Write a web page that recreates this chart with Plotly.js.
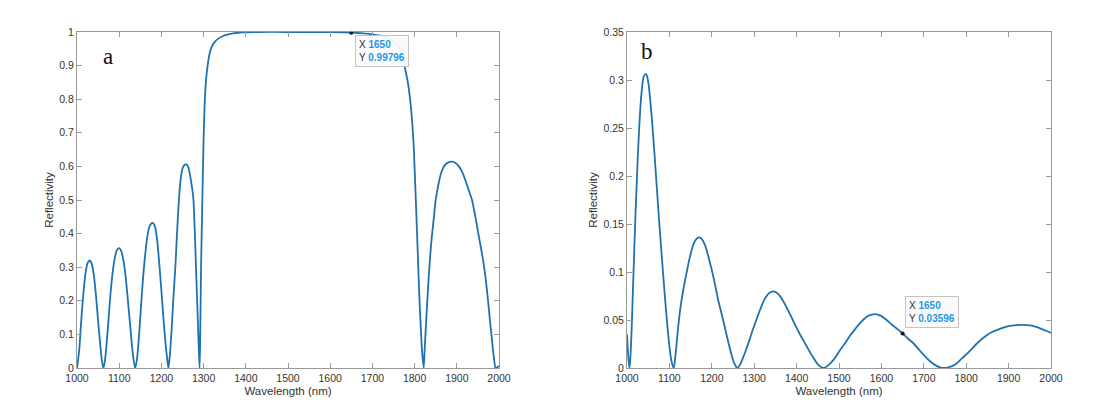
<!DOCTYPE html>
<html>
<head>
<meta charset="utf-8">
<script src="https://cdn.plot.ly/plotly-3.0.1.min.js"></script>
<style>html,body{margin:0;padding:0;background:#fff;}#chart{width:1096px;height:409px;}</style>
</head>
<body>
<div id="chart"></div>
<script>
// Panel (a) reflectivity
var waveA = [1000,1005,1010,1015,1020,1025,1030,1035,1040,1045,1050,1055,1059,1062.5,
  1066,1070,1075,1080,1085,1090,1095,1100,1105,1110,1115,1120,1125,1130,1134,1138,
  1142,1146,1151,1156,1161,1166,1171,1176,1180,1185,1190,1195,1200,1205,1210,1213.5,1216.5,
  1219.5,1224,1228,1233,1237,1241,1245,1250,1255,1259,1263,1267,1271,1274,1276,1279,1282,1285,1288,1290.5,
  1292,1294,1297,1300,1303,1306,1309.5,1314,1319,1326,1336,1346,1356,1370,1390,1420,1500,1550,1600,1650,1700,1730,1750,1762,1770,1776,1784,1791,1797,1802,1807,1811,1815,1818,1821.5,
  1824,1827,1831,1835,1840,1845,1850,1857,1864,1871,1880,1889,1897,1905,1912,1920,1928,1936,1944,1951,1958,1963,1968,1972,1976,1979,1982,1986,1989,1992,1996,2000];
var reflA = [0,0.05,0.14,0.22,0.28,0.312,0.32,0.31,0.275,0.215,0.14,0.07,0.022,0,
  0.02,0.07,0.15,0.23,0.29,0.33,0.352,0.357,0.348,0.32,0.275,0.21,0.14,0.07,0.025,0,
  0.025,0.08,0.17,0.26,0.33,0.385,0.418,0.43,0.432,0.42,0.38,0.31,0.23,0.145,0.07,0.03,0,
  0.03,0.11,0.2,0.3,0.4,0.49,0.555,0.593,0.605,0.606,0.6,0.58,0.55,0.525,0.5,0.41,0.3,0.19,0.08,0,
  0.1,0.3,0.5,0.68,0.8,0.86,0.9,0.935,0.955,0.97,0.981,0.988,0.992,0.996,0.999,1.0,1.0,1.0,0.9995,0.99796,0.993,0.985,0.972,0.955,0.935,0.9,0.85,0.78,0.68,0.53,0.36,0.22,0.11,0.045,0,
  0.06,0.13,0.22,0.3,0.38,0.44,0.5,0.55,0.585,0.603,0.612,0.614,0.61,0.6,0.585,0.56,0.53,0.5,0.45,0.4,0.352,0.315,0.27,0.225,0.175,0.135,0.1,0.05,0.02,0,0.002,0.006];

// Panel (b) reflectivity
var waveB = [1000,1003,1006,1010,1015,1020,1025,1030,1035,1040,1045,1050,1055,1060,1065,1070,1075,1080,1085,1090,1095,1100,1105,1110,
  1114,1118,1122,1127,1133,1140,1148,1156,1163,1170,1177,1184,1192,1200,1208,1216,1224,1232,1240,1247,1254,1260,
  1266,1273,1280,1288,1296,1305,1315,1325,1335,1346,1357,1368,1380,1391,1401,1411,1422,1432,1442,1452,1463,
  1475,1488,1500,1513,1525,1537,1548,1559,1570,1585,1598,1612,1625,1638,1650,1663,1677,1690,1703,1716,1729,1740,1747,
  1760,1775,1790,1807,1824,1842,1861,1881,1900,1918,1935,1950,1965,1980,1990,2000];
var reflB = [0.035,0.012,0,0.03,0.095,0.16,0.215,0.26,0.29,0.304,0.306,0.298,0.278,0.252,0.222,0.19,0.158,0.128,0.099,0.071,0.045,0.023,0.007,0,
  0.012,0.03,0.048,0.066,0.082,0.098,0.115,0.128,0.134,0.136,0.134,0.128,0.116,0.102,0.086,0.069,0.055,0.04,0.025,0.013,0.004,0,
  0.003,0.01,0.018,0.028,0.039,0.05,0.062,0.072,0.078,0.0798,0.077,0.07,0.06,0.05,0.041,0.0325,0.024,0.016,0.009,0.003,0,
  0.003,0.009,0.017,0.025,0.033,0.04,0.046,0.051,0.0545,0.0562,0.0545,0.05,0.045,0.0405,0.03596,0.0305,0.025,0.0185,0.012,0.0065,0.0025,0.0005,0,
  0.001,0.004,0.01,0.017,0.025,0.032,0.0375,0.041,0.0435,0.0447,0.045,0.0445,0.0428,0.0403,0.0385,0.0365];

// Data tips
var tipX = 1650;
var tipYA = 0.99796;
var tipYB = 0.03596;

var xTicks = [1000,1100,1200,1300,1400,1500,1600,1700,1800,1900,2000];
var yTicksA = [0,0.1,0.2,0.3,0.4,0.5,0.6,0.7,0.8,0.9,1];
var yTickTextA = ['0','0.1','0.2','0.3','0.4','0.5','0.6','0.7','0.8','0.9','1'];
var yTicksB = [0,0.05,0.1,0.15,0.2,0.25,0.3,0.35];
var yTickTextB = ['0','0.05','0.1','0.15','0.2','0.25','0.3','0.35'];

var FONT = 'Arial, "Liberation Sans", Helvetica, sans-serif';
var LINE = '#1f72b0';
var AX = '#9a9a9a';
var TXT = '#333333';

var traces = [
  {x: waveA, y: reflA, type: 'scatter', mode: 'lines', line: {color: LINE, width: 1.8, shape: 'spline', smoothing: 0.8}, xaxis: 'x', yaxis: 'y', hoverinfo: 'skip'},
  {x: waveB, y: reflB, type: 'scatter', mode: 'lines', line: {color: LINE, width: 1.8, shape: 'spline', smoothing: 1}, xaxis: 'x2', yaxis: 'y2', hoverinfo: 'skip'},
  {x: [tipX], y: [tipYA], type: 'scatter', mode: 'markers', marker: {color: '#111', size: 4}, xaxis: 'x', yaxis: 'y', cliponaxis: false},
  {x: [tipX], y: [tipYB], type: 'scatter', mode: 'markers', marker: {color: '#111', size: 4}, xaxis: 'x2', yaxis: 'y2', cliponaxis: false}
];

function xax(domain, anchor) {
  return {
    domain: domain, anchor: anchor, range: [1000, 2000], tickvals: xTicks,
    ticks: 'inside', ticklen: 5, tickcolor: AX, tickwidth: 1,
    showline: true, linecolor: AX, linewidth: 1, mirror: 'ticks',
    showgrid: false, zeroline: false,
    tickfont: {family: FONT, size: 10.5, color: TXT},
    title: {text: 'Wavelength (nm)', font: {family: FONT, size: 11.5, color: TXT}, standoff: 4}
  };
}
function yax(domain, anchor, range, vals, text) {
  return {
    domain: domain, anchor: anchor, range: range, tickvals: vals, ticktext: text,
    ticks: 'inside', ticklen: 5, tickcolor: AX, tickwidth: 1,
    showline: true, linecolor: AX, linewidth: 1, mirror: 'ticks',
    showgrid: false, zeroline: false,
    tickfont: {family: FONT, size: 10.5, color: TXT},
    title: {text: 'Reflectivity', font: {family: FONT, size: 11.5, color: TXT}, standoff: 3}
  };
}

var yDom = [1 - 368/409, 1 - 32/409];
var SERIF = '"Liberation Serif", "Times New Roman", serif';
var layout = {
  width: 1096, height: 409,
  margin: {l: 0, r: 0, t: 0, b: 0},
  paper_bgcolor: '#ffffff', plot_bgcolor: '#ffffff',
  showlegend: false,
  xaxis: xax([77/1096, 499/1096], 'y'),
  yaxis: yax(yDom, 'x', [0, 1], yTicksA, yTickTextA),
  xaxis2: xax([627/1096, 1051/1096], 'y2'),
  yaxis2: yax(yDom, 'x2', [0, 0.35], yTicksB, yTickTextB),
  annotations: [
    {xref: 'x', yref: 'y', x: 1000, y: 1, xanchor: 'center', yanchor: 'bottom', xshift: 31, yshift: -39,
     text: 'a', showarrow: false, font: {family: SERIF, size: 23, color: '#111'}},
    {xref: 'x2', yref: 'y2', x: 1000, y: 0.35, xanchor: 'center', yanchor: 'bottom', xshift: 20, yshift: -34,
     text: 'b', showarrow: false, font: {family: SERIF, size: 23, color: '#111'}},
    {xref: 'x', yref: 'y', x: tipX, y: tipYA, xanchor: 'left', yanchor: 'top', xshift: 4, yshift: -2, align: 'left',
     showarrow: false, bgcolor: 'rgba(250,250,250,0.95)', bordercolor: '#c4c4c4', borderwidth: 1, borderpad: 3,
     font: {family: FONT, size: 10, color: '#333'},
     text: 'X <b><span style="color:#1a9be6">' + tipX + '</span></b><br>Y <b><span style="color:#1a9be6">' + tipYA + '</span></b>'},
    {xref: 'x2', yref: 'y2', x: tipX, y: tipYB, xanchor: 'left', yanchor: 'bottom', xshift: 2, yshift: 5, align: 'left',
     showarrow: false, bgcolor: 'rgba(250,250,250,0.95)', bordercolor: '#c4c4c4', borderwidth: 1, borderpad: 3,
     font: {family: FONT, size: 10, color: '#333'},
     text: 'X <b><span style="color:#1a9be6">' + tipX + '</span></b><br>Y <b><span style="color:#1a9be6">' + tipYB + '</span></b>'}
  ]
};

Plotly.newPlot('chart', traces, layout, {staticPlot: true, displayModeBar: false});
</script>
</body>
</html>
